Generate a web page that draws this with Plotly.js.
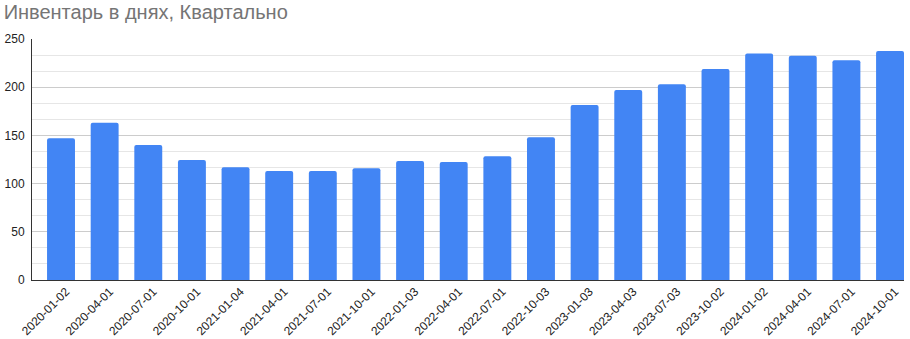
<!DOCTYPE html>
<html>
<head>
<meta charset="utf-8">
<script src="https://cdn.plot.ly/plotly-3.0.1.min.js"></script>
<style>html,body{margin:0;padding:0;background:#fff;}#chart{width:910px;height:339px;}</style>
</head>
<body>
<div id="chart"></div>
<script>
const categories = ["2020-01-02","2020-04-01","2020-07-01","2020-10-01","2021-01-04","2021-04-01","2021-07-01","2021-10-01","2022-01-03","2022-04-01","2022-07-01","2022-10-03","2023-01-03","2023-04-03","2023-07-03","2023-10-02","2024-01-02","2024-04-01","2024-07-01","2024-10-01"];
const inventoryDays = [147, 163, 140, 124.5, 117, 113, 113, 116, 123.5, 122.5, 128.5, 148, 181.5, 197, 203, 219, 235, 232.5, 228, 237.5];
const yTicks = [0, 50, 100, 150, 200, 250];
const titleText = "Инвентарь в днях, Квартально";

const trace = {
  type: "bar",
  x: categories,
  y: inventoryDays,
  width: 0.64,
  marker: {color: "#4285f4", cornerradius: 2},
  hoverinfo: "x+y"
};

const layout = {
  width: 910, height: 339,
  margin: {l: 32, r: 6, t: 39, b: 59},
  paper_bgcolor: "#fff", plot_bgcolor: "#fff",
  font: {family: "Arial, 'Liberation Sans', sans-serif", color: "#222", size: 12},
  title: {text: titleText, x: 0.004, xref: "container", xanchor: "left", y: 0.986, yref: "container", yanchor: "top",
          font: {size: 20, color: "#757575", family: "Arial, 'Liberation Sans', sans-serif"}},
  showlegend: false,
  bargap: 0.36,
  xaxis: {
    type: "category",
    range: [-0.665, 19.32],
    tickangle: -45,
    showgrid: false,
    showline: true, linecolor: "#333", linewidth: 1,
    ticks: "", ticklabelshift: 5, ticklabelstandoff: -1,
    tickfont: {size: 12, color: "#222"},
    fixedrange: true
  },
  yaxis: {
    range: [0, 250],
    tickvals: yTicks,
    ticktext: yTicks.map(String),
    showgrid: true, gridcolor: "#cccccc", gridwidth: 1,
    minor: {dtick: 50/3, tick0: 0, showgrid: true, gridcolor: "#e6e6e6", gridwidth: 1, ticks: ""},
    zeroline: false,
    showline: true, linecolor: "#333", linewidth: 1,
    ticks: "", ticklabelstandoff: 4,
    tickfont: {size: 12, color: "#222"},
    fixedrange: true
  }
};

Plotly.newPlot("chart", [trace], layout, {displayModeBar: false, staticPlot: true});
</script>
</body>
</html>
